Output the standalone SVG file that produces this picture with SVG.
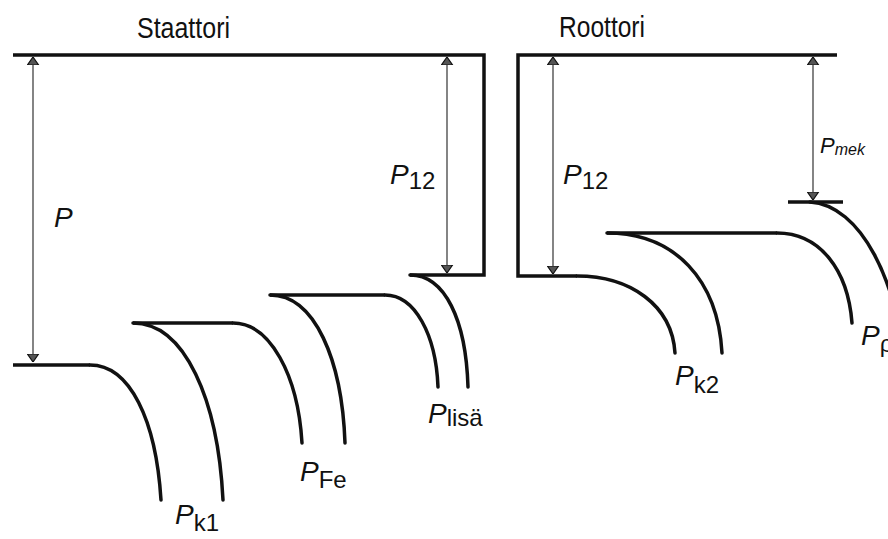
<svg xmlns="http://www.w3.org/2000/svg" width="888" height="539" viewBox="0 0 888 539">
<style>
.th{fill:none;stroke:#111;stroke-width:3.5;stroke-linecap:butt}
.cv{fill:none;stroke:#111;stroke-width:3.5;stroke-linecap:round}
.ar{fill:none;stroke:#333;stroke-width:1.2;marker-start:url(#ah);marker-end:url(#ah)}
.tt{font-family:"Liberation Sans",Arial,sans-serif;font-size:29px;fill:#111}
.lb{font-family:"Liberation Sans",Arial,sans-serif;font-size:28px;font-style:italic;fill:#111}
.sb{font-family:"Liberation Sans",Arial,sans-serif;font-size:24px;font-style:normal}
.sm{font-family:"Liberation Sans",Arial,sans-serif;font-size:16px;font-style:italic}
</style>
<defs>
<marker id="ah" viewBox="0 0 10 16" refX="10" refY="8" markerWidth="8" markerHeight="13" markerUnits="userSpaceOnUse" orient="auto-start-reverse">
<path d="M0,1 L10,8 L0,15 Z" fill="#555" stroke="#111" stroke-width="1.5"/>
</marker>
</defs>
<rect width="888" height="539" fill="#fff"/>

<g id="staattori">
<text class="tt" x="137" y="38" textLength="93" lengthAdjust="spacingAndGlyphs">Staattori</text>
<path class="th" d="M13,55 H484 V275 H410"/>
</g>

<g id="roottori">
<text class="tt" x="559" y="37" textLength="86" lengthAdjust="spacingAndGlyphs">Roottori</text>
<path class="th" d="M837,55 H518 V276 H577"/>
</g>

<g id="connectors">
<line class="ar" x1="33" y1="57" x2="33" y2="362"/>
<line class="ar" x1="447" y1="57" x2="447" y2="273"/>
<line class="ar" x1="553" y1="57" x2="553" y2="274"/>
<line class="ar" x1="813" y1="57" x2="813" y2="200"/>
</g>

<g id="loss-curves">
<path class="th" d="M13,365 H90"/>
<path class="cv" d="M90,365 C130,365 156,420 161,500"/>
<path class="th" d="M133,323 H233"/>
<path class="cv" d="M133,323 C185,323 218,400 223,500"/>
<path class="cv" d="M233,323 C270,323 298,375 302,443"/>
<path class="th" d="M270,295 H385"/>
<path class="cv" d="M270,295 C315,295 342,360 345,443"/>
<path class="cv" d="M385,295 C415,295 436,335 438,387"/>
<path class="cv" d="M410,275 C445,275 466,320 468,387"/>
<path class="cv" d="M577,276 C630,276 672,305 675,353"/>
<path class="th" d="M607,233 H777"/>
<path class="cv" d="M607,233 C675,233 718,280 722,353"/>
<path class="cv" d="M777,233 C820,233 848,270 852,323"/>
<path class="th" d="M788,202 H843"/>
<path class="cv" d="M810,202 C860,205 900,280 905,380"/>
</g>

<g id="labels">
<text class="lb" x="54" y="227">P</text>
<text class="lb" x="390" y="184">P<tspan class="sb" dy="5">12</tspan></text>
<text class="lb" x="563" y="184">P<tspan class="sb" dy="5">12</tspan></text>
<text class="lb" x="820" y="153" style="font-size:22px">P<tspan class="sm" dy="2">mek</tspan></text>
<text class="lb" x="175" y="524">P<tspan class="sb" dy="7">k1</tspan></text>
<text class="lb" x="300" y="481">P<tspan class="sb" dy="7">Fe</tspan></text>
<text class="lb" x="428" y="423">P<tspan class="sb" dy="3">lisä</tspan></text>
<text class="lb" x="675" y="385">P<tspan class="sb" dy="8">k2</tspan></text>
<text class="lb" x="861" y="345">P<tspan class="sb" dy="7">ρ</tspan></text>
</g>
</svg>
